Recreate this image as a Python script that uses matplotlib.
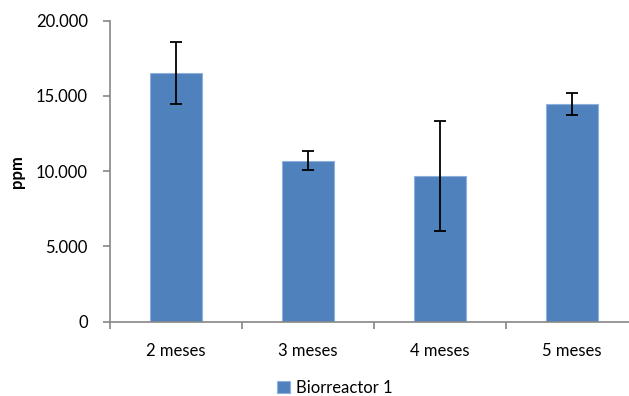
import matplotlib.pyplot as plt
import numpy as np

categories = ["2 meses", "3 meses", "4 meses", "5 meses"]
values = [16550, 10710, 9690, 14470]
errors = [2060, 650, 3650, 750]
series_name = "Biorreactor 1"

plt.rcParams['font.family'] = ['Lato', 'DejaVu Sans']

fig = plt.figure(figsize=(6.29, 3.96), dpi=100)
ax = fig.add_axes([110 / 629, 74.3 / 396, 528 / 629, 301 / 396])

x = np.arange(len(categories))
ax.bar(x, values, width=0.39, color="#4F81BD", edgecolor="#8EB0DB", linewidth=0.8,
       label=series_name, zorder=2)
ax.errorbar(x, values, yerr=errors, fmt="none", ecolor="black", elinewidth=1.3,
            capsize=4, capthick=1.3, zorder=3)

ax.set_xlim(-0.5, 3.5)
ax.set_ylim(0, 20000)
ax.set_yticks([0, 5000, 10000, 15000, 20000])
ax.set_yticklabels(["0", "5.000", "10.000", "15.000", "20.000"], fontsize=12)
ax.set_xticks(x)
ax.set_xticklabels(categories, fontsize=12)
ax.set_xticks(np.arange(-0.5, 4, 1), minor=True)
ax.tick_params(axis="x", which="major", length=0, pad=15)
ax.tick_params(axis="x", which="minor", length=5, color="#868686", width=1.2)
ax.tick_params(axis="y", length=5, color="#868686", width=1.2, pad=11)

for s in ["top", "right"]:
    ax.spines[s].set_visible(False)
for s in ["left", "bottom"]:
    ax.spines[s].set_color("#868686")
    ax.spines[s].set_linewidth(1.2)

fig.text(17 / 629, 1 - 172 / 396, "ppm", rotation=90, fontsize=12, fontweight="bold",
         ha="center", va="center")

fig.legend(loc="center", bbox_to_anchor=(335 / 629, 1 - 388 / 396), frameon=False,
           fontsize=12, handlelength=0.75, handleheight=0.75, handletextpad=0.4)

fig.savefig("out.png", dpi=100)
